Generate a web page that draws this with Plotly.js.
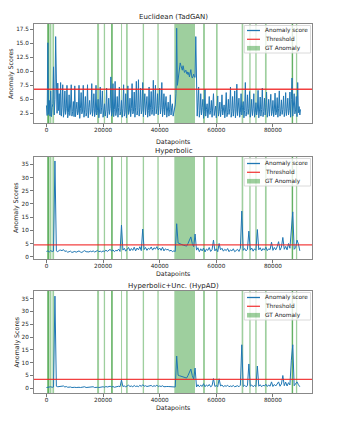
<!DOCTYPE html>
<html><head><meta charset="utf-8">
<script src="https://cdn.plot.ly/plotly-3.0.1.min.js"></script>
<style>html,body{margin:0;padding:0;background:#fff}#chart{width:338px;height:423px}</style>
</head><body><div id="chart"></div>
<script>
// ---- data ----
// Euclidean (TadGAN) scores, sampled every 250 datapoints
const euclideanStep = 250;
const euclidean = [
 3.9,2.1,15.1,2.3,4.8,2.0,6.5,1.9,3.5,4.2,10.8,2.2,5.0,16.2,8.8,2.5,7.9,3.0,6.0,2.2,
 8.0,2.0,3.6,7.6,1.8,2.9,6.5,2.3,3.3,7.5,1.7,2.6,5.8,2.1,3.8,7.6,2.0,2.8,4.6,1.9,
 7.4,1.9,3.2,4.5,2.2,2.7,7.5,1.6,3.4,6.2,2.4,2.9,7.5,1.8,3.1,5.5,2.0,2.6,7.6,1.7,
 3.5,4.8,2.3,2.8,7.8,2.0,3.3,6.0,1.9,2.7,7.5,2.2,3.0,5.0,1.7,2.9,7.2,2.4,3.6,6.5,
 1.8,2.6,4.2,2.0,3.1,7.0,1.7,2.8,5.2,2.3,3.4,9.0,2.0,2.7,7.8,1.9,3.2,8.2,2.1,2.9,
 5.5,1.8,3.5,7.2,2.2,2.8,4.8,1.8,3.3,7.6,2.0,2.6,6.0,1.7,3.1,7.4,2.3,2.9,5.2,1.9,
 3.4,7.8,2.4,2.8,6.3,1.8,3.6,8.2,2.2,3.0,8.5,2.0,3.5,7.0,2.4,3.1,8.0,1.9,3.7,6.0,
 2.2,3.3,5.5,1.8,3.0,7.2,2.0,3.6,6.4,2.3,3.2,8.4,2.1,3.8,7.5,2.4,3.4,6.0,2.2,3.9,
 7.0,2.4,3.5,8.0,1.9,3.2,6.0,2.2,3.8,5.5,1.8,3.4,4.5,2.0,3.1,5.8,2.2,3.6,4.2,2.0,
 2.5,3.2,4.0,6.0,17.7,7.5,8.8,9.8,10.6,11.5,11.0,10.6,10.2,11.0,10.4,9.8,10.0,10.2,9.6,9.9,
 9.4,9.8,9.0,9.5,10.3,9.2,8.8,9.1,9.5,9.0,8.9,16.2,6.5,2.0,4.5,7.2,1.8,3.0,6.0,2.2,
 3.5,5.0,1.6,2.8,6.8,2.0,3.2,4.2,1.7,2.9,5.5,2.3,3.0,4.8,1.8,3.3,6.0,2.1,2.7,3.8,
 1.7,3.0,5.6,2.0,2.8,4.5,1.9,3.2,5.8,2.2,2.9,4.0,1.7,3.1,6.2,1.9,2.6,5.0,2.3,3.4,
 7.2,1.8,2.8,5.5,2.0,3.3,6.5,1.7,2.9,7.7,2.1,3.2,5.2,1.8,2.7,6.0,2.2,3.5,4.6,1.7,
 3.0,8.0,2.0,2.8,5.8,2.3,3.4,6.4,1.8,2.9,5.0,2.1,3.3,6.0,1.8,2.7,4.4,2.2,3.1,6.6,
 1.7,2.9,5.4,2.0,3.2,7.0,1.9,2.8,5.2,2.2,3.5,6.3,1.8,2.9,5.0,2.0,3.3,5.9,2.1,2.8,
 4.8,1.9,3.1,6.1,2.2,2.7,5.3,1.8,3.4,6.5,2.0,2.9,4.9,2.3,3.2,5.6,1.9,2.8,6.2,2.1,
 3.3,5.2,2.2,3.0,6.3,1.8,5.0,8.8,2.0,3.4,6.0,2.4,3.1,5.5,1.9,8.0,2.6,3.7,2.2,3.2
];
// Hyperbolic and HypAD scores, sampled every 500 datapoints
const hypStep = 500;
const hyperbolic = [
 2.0,2.2,1.8,2.3,2.0,2.1,36.3,2.2,1.9,2.4,
 2.5,2.3,2.7,2.0,2.2,1.7,1.9,2.1,1.6,1.8,
 2.0,1.7,1.9,2.2,1.8,1.6,2.0,2.3,1.9,1.7,
 1.8,2.1,1.9,2.2,1.8,2.0,2.4,1.9,2.1,1.8,
 2.2,1.9,2.5,2.0,2.3,2.8,2.1,2.6,1.9,2.4,
 2.2,2.9,2.0,12.0,2.5,3.2,2.1,2.8,3.5,2.2,
 3.1,2.4,3.6,2.2,3.3,2.6,3.8,2.3,10.5,2.7,
 3.5,2.4,3.2,2.8,3.7,2.5,3.4,2.9,3.8,2.6,
 3.3,2.4,3.6,2.2,3.0,2.6,2.8,2.1,2.5,1.9,
 2.2,2.0,12.5,5.2,4.9,4.7,4.5,4.3,4.2,4.0,
 5.0,6.2,7.5,5.0,3.8,8.6,2.5,3.4,1.9,3.0,
 2.2,3.3,1.8,2.9,2.4,3.5,2.0,2.7,6.3,2.2,
 3.0,1.9,5.0,2.6,3.2,2.1,2.8,2.3,3.1,1.9,
 2.6,2.2,3.0,1.9,2.5,2.8,2.0,3.2,17.3,2.4,
 3.1,2.2,2.8,9.7,2.5,3.3,2.1,3.0,2.4,10.3,
 2.6,3.4,2.2,3.1,2.5,3.6,2.3,3.0,2.7,5.5,
 2.4,3.5,2.6,3.8,5.7,2.5,3.6,7.3,2.8,3.9,
 2.6,5.0,3.2,11.0,17.0,2.8,3.4,6.3,4.8,2.2
];
const hypad = [
 0.3,0.5,0.4,0.6,0.4,0.5,36.0,0.8,0.6,0.7,
 0.8,0.6,0.9,0.5,0.7,0.4,0.6,0.5,0.3,0.5,
 0.4,0.3,0.5,0.4,0.3,0.5,0.4,0.6,0.3,0.4,
 0.5,0.3,0.4,0.6,0.3,0.5,0.4,0.3,0.5,0.4,
 0.6,0.4,0.7,0.5,0.6,0.8,0.5,0.7,0.4,0.6,
 0.5,0.8,0.6,3.2,0.7,0.9,0.6,1.0,1.2,0.7,
 0.9,0.6,1.1,0.7,0.9,0.6,1.2,0.7,1.4,0.8,
 1.0,0.7,0.9,0.8,1.1,0.7,1.0,0.8,1.2,0.7,
 0.9,0.7,1.0,0.6,0.8,0.7,0.7,0.6,0.6,0.5,
 0.6,0.5,12.6,5.1,4.9,4.7,4.5,4.4,4.2,4.0,
 5.0,6.3,7.5,5.0,3.6,7.9,0.5,1.4,0.6,1.2,
 0.7,1.8,0.6,1.3,0.8,1.5,0.6,1.0,3.8,0.7,
 1.1,0.6,3.7,0.9,1.3,0.6,1.0,0.8,1.2,0.6,
 0.9,0.7,1.1,0.6,0.8,1.0,0.6,1.2,17.0,0.7,
 1.2,0.6,1.0,9.5,0.8,1.3,0.6,1.1,0.7,8.7,
 0.8,1.4,0.6,1.2,0.9,1.6,0.7,1.3,0.8,2.5,
 0.7,1.5,0.9,1.8,2.5,0.8,1.7,5.0,1.0,2.4,
 0.9,2.2,1.3,11.0,17.0,1.0,1.6,2.5,1.4,0.6
];
const thresholds = [6.8, 4.5, 3.5];
const panelTitles = ['Euclidean (TadGAN)', 'Hyperbolic', 'Hyperbolic+Unc. (HypAD)'];
// ground-truth anomaly intervals (overlapping intervals appear darker)
const gtStart = [240, 350, 1190, 2100, 17880, 20250, 22820, 22900, 26350, 28120, 34000, 39170, 45170, 55300, 59880, 68950, 71640, 73760, 77180, 86600, 86680, 88120];
const gtEnd   = [1050, 950, 1750, 2700, 18590, 20710, 23430, 23350, 26700, 28710, 34480, 39660, 52470, 56000, 60480, 69520, 72130, 74250, 77780, 87160, 87080, 88580];
const xTicks = [0, 20000, 40000, 60000, 80000];
const yTicks1 = [2.5, 5.0, 7.5, 10.0, 12.5, 15.0, 17.5];
const yTicks23 = [0, 5, 10, 15, 20, 25, 30, 35];
const legendLabels = ['Anomaly score', 'Threshold', 'GT Anomaly'];

// ---- drawing ----
const W = 338, H = 423;
const px = v => v / W, py = v => 1 - v / H;
const tops = [24, 157, 291], bottoms = [123, 259, 393];
const yRanges = [[0.77, 18.45], [-0.87, 37.8], [-1.84, 38.0]];
const yTickSets = [yTicks1, yTicks23, yTicks23];
const series = [euclidean, hyperbolic, hypad];
const steps = [euclideanStep, hypStep, hypStep];
const blue = '#1f77b4', red = 'rgba(240,30,30,0.85)', green = 'rgba(0,128,0,0.38)';
const ylabX = [11.5, 16, 16.5];
const dpY = [141.5, 274, 407.5];
const titleY = [16.7, 151, 285.7];

const data = [], shapes = [], annotations = [];
const layout = {width: W, height: H, margin: {l: 0, r: 0, t: 0, b: 0}, showlegend: false,
  paper_bgcolor: '#fff', plot_bgcolor: '#fff', font: {family: 'DejaVu Sans', color: '#222'}};
const txtFont = s => ({family: 'DejaVu Sans', size: s, color: '#222'});

for (let p = 0; p < 3; p++) {
  const sfx = p === 0 ? '' : String(p + 1);
  const xr = 'x' + sfx, yr = 'y' + sfx;
  const xs = series[p].map((_, i) => i * steps[p]);
  data.push({x: xs, y: series[p], type: 'scatter', mode: 'lines', xaxis: xr, yaxis: yr,
    line: {color: blue, width: 1}, hoverinfo: 'skip'});
  layout['xaxis' + sfx] = {domain: [px(34), px(312)], anchor: yr, range: [-4400, 93800],
    tickvals: xTicks, ticktext: xTicks.map(String), ticks: 'outside', ticklen: 3, tickwidth: 0.8,
    tickcolor: '#555', showline: true, mirror: true, linecolor: '#888', linewidth: 1,
    showgrid: false, zeroline: false, tickfont: txtFont(5.7), ticklabelstandoff: -2};
  layout['yaxis' + sfx] = {domain: [py(bottoms[p]), py(tops[p])], anchor: xr, range: yRanges[p],
    tickvals: yTickSets[p], ticktext: yTickSets[p].map(v => p === 0 ? v.toFixed(1) : String(v)),
    ticks: 'outside', ticklen: 3, tickwidth: 0.8, tickcolor: '#555', showline: true, mirror: true,
    linecolor: '#888', linewidth: 1, showgrid: false, zeroline: false, tickfont: txtFont(5.7)};
  for (let i = 0; i < gtStart.length; i++) {
    shapes.push({type: 'rect', xref: xr, yref: yr + ' domain', x0: gtStart[i], x1: gtEnd[i], y0: 0, y1: 1,
      fillcolor: green, line: {width: 0}, layer: 'below'});
  }
  shapes.push({type: 'line', xref: xr + ' domain', yref: yr, x0: 0, x1: 1, y0: thresholds[p], y1: thresholds[p],
    line: {color: red, width: 1.4}, layer: 'above'});
  // legend
  const t = tops[p];
  shapes.push({type: 'rect', xref: 'paper', yref: 'paper', x0: px(244.3), x1: px(310.5), y0: py(t + 29), y1: py(t + 1.5),
    fillcolor: 'rgba(255,255,255,0.8)', line: {color: '#d0d0d0', width: 0.8}, layer: 'above'});
  const ey = [t + 6.5, t + 15.3, t + 24.2];
  shapes.push({type: 'line', xref: 'paper', yref: 'paper', x0: px(247), x1: px(260), y0: py(ey[0]), y1: py(ey[0]),
    line: {color: blue, width: 1.3}, layer: 'above'});
  shapes.push({type: 'line', xref: 'paper', yref: 'paper', x0: px(247), x1: px(260), y0: py(ey[1]), y1: py(ey[1]),
    line: {color: red, width: 1.3}, layer: 'above'});
  shapes.push({type: 'rect', xref: 'paper', yref: 'paper', x0: px(247), x1: px(260), y0: py(ey[2] + 2.3), y1: py(ey[2] - 2.3),
    fillcolor: green, line: {width: 0}, layer: 'above'});
  for (let k = 0; k < 3; k++) {
    annotations.push({xref: 'paper', yref: 'paper', x: px(263.5), y: py(ey[k]), xanchor: 'left', yanchor: 'middle',
      text: legendLabels[k], showarrow: false, font: txtFont(5.8), borderpad: 0});
  }
  annotations.push({xref: 'paper', yref: 'paper', x: px(173.5), y: py(titleY[p]), xanchor: 'center', yanchor: 'middle',
    text: panelTitles[p], showarrow: false, font: txtFont(7), borderpad: 0});
  annotations.push({xref: 'paper', yref: 'paper', x: px(173), y: py(dpY[p]), xanchor: 'center', yanchor: 'middle',
    text: 'Datapoints', showarrow: false, font: txtFont(6.3), borderpad: 0});
  annotations.push({xref: 'paper', yref: 'paper', x: px(ylabX[p]), y: py((tops[p] + bottoms[p]) / 2), xanchor: 'center', yanchor: 'middle',
    text: 'Anomaly Scores', textangle: -90, showarrow: false, font: txtFont(6.3), borderpad: 0});
}
layout.shapes = shapes;
layout.annotations = annotations;
Plotly.newPlot('chart', data, layout, {staticPlot: true, displayModeBar: false});
</script></body></html>
